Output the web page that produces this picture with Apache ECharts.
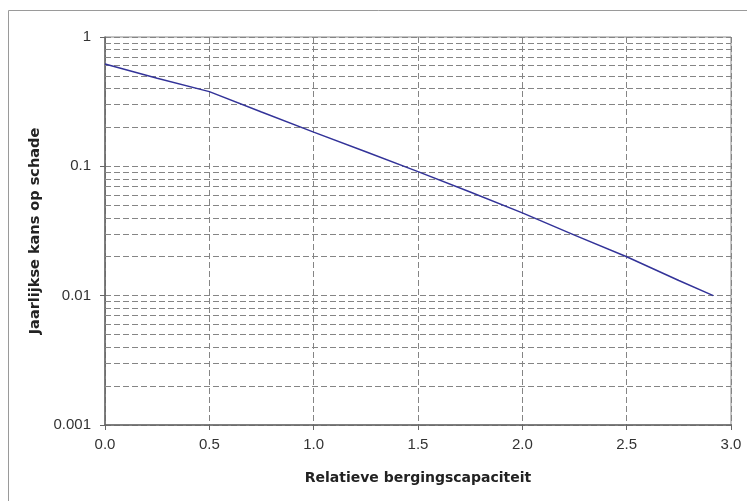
<!DOCTYPE html>
<html>
<head>
<meta charset="utf-8">
<script src="https://cdn.jsdelivr.net/npm/echarts@6/dist/echarts.min.js"></script>
<style>
html,body{margin:0;padding:0;background:#fff;}
#chart{width:747px;height:501px;}
</style>
</head>
<body>
<div id="chart"></div>
<script>
var xValues = [0, 0.25, 0.5, 0.75, 1.0, 1.25, 1.5, 1.75, 2.0, 2.25, 2.5, 2.75, 2.915];
var yValues = [0.618, 0.479, 0.378, 0.263, 0.184, 0.1295, 0.091, 0.0633, 0.0437, 0.0294, 0.02, 0.0131, 0.01];
var yTickLabels = ['0.001', '0.01', '0.1', '1'];
var minorGridValues = [0.002,0.003,0.004,0.005,0.006,0.007,0.008,0.009,
                       0.02,0.03,0.04,0.05,0.06,0.07,0.08,0.09,
                       0.2,0.3,0.4,0.5,0.6,0.7,0.8,0.9];
var xRange = [0, 3];
var xTitle = 'Relatieve bergingscapaciteit';
var yTitle = 'Jaarlijkse kans op schade';

var chart = echarts.init(document.getElementById('chart'), null, {renderer:'canvas'});
var FONT = 'Liberation Sans, Arial, sans-serif';
var TITLE_FONT = 'DejaVu Sans, Liberation Sans, sans-serif';
var gridDash = {type:[6,3], color:'#858585', width:1, opacity:1};

var seriesData = xValues.map(function(x,i){ return [x, yValues[i]]; });
var minorLines = minorGridValues.map(function(v){
  return {coords:[[xRange[0], v], [xRange[1], v]]};
});

chart.setOption({
  animation:false,
  backgroundColor:'#fff',
  graphic:[{
    type:'rect', silent:true,
    shape:{x:8.5, y:10.5, width:800, height:600},
    style:{fill:'none', stroke:'#9a9a9a', lineWidth:1}
  }],
  grid:{left:105, top:37, right:16, bottom:76, show:true, borderColor:'#8a8a8a', borderWidth:1, backgroundColor:'transparent'},
  xAxis:{
    type:'value', min:xRange[0], max:xRange[1], interval:0.5,
    name:xTitle, nameLocation:'middle', nameGap:46,
    nameTextStyle:{fontFamily:TITLE_FONT, fontSize:14, fontWeight:'bold', color:'#222'},
    axisLine:{show:true, lineStyle:{color:'#666', width:1.5}},
    axisTick:{show:true, inside:false, length:5, lineStyle:{color:'#666'}},
    axisLabel:{margin:12, fontFamily:FONT, fontSize:15, color:'#333',
      formatter:function(v){ return v.toFixed(1); }},
    splitLine:{show:true, lineStyle:gridDash}
  },
  yAxis:{
    type:'log', logBase:10, min:0.001, max:1,
    name:yTitle, nameLocation:'middle', nameGap:62, nameRotate:90,
    nameTextStyle:{fontFamily:TITLE_FONT, fontSize:14.5, fontWeight:'bold', color:'#222'},
    axisLine:{show:true, lineStyle:{color:'#666', width:1.5}},
    axisTick:{show:true, inside:false, length:5, lineStyle:{color:'#666'}},
    axisLabel:{margin:14, fontFamily:FONT, fontSize:15, color:'#333',
      formatter:function(v){
        var e = Math.round(Math.log10(v));
        return yTickLabels[e + 3];
      }},
    splitLine:{show:true, lineStyle:gridDash}
  },
  series:[{
    type:'lines',
    coordinateSystem:'cartesian2d',
    silent:true,
    polyline:false,
    lineStyle:gridDash,
    data:minorLines,
    z:1
  },{
    type:'line',
    data:seriesData,
    symbol:'none',
    smooth:false,
    lineStyle:{color:'#333399', width:1.5},
    z:5
  }]
});
</script>
</body>
</html>
